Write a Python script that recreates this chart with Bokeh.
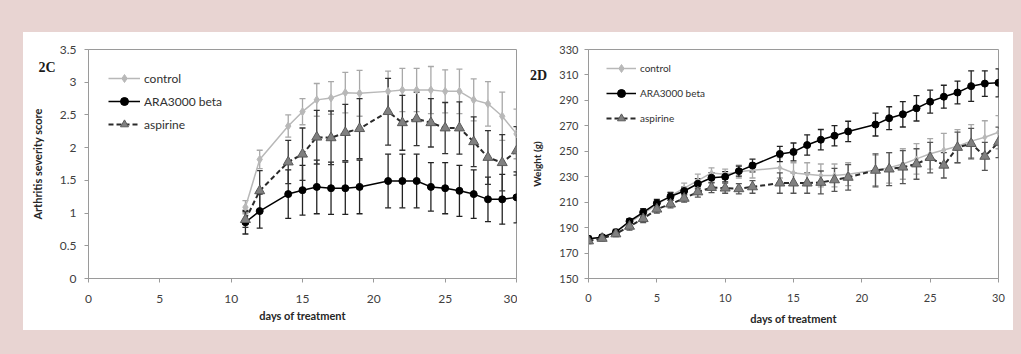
from bokeh.plotting import figure
from bokeh.models import (ColumnDataSource, Whisker, TeeHead, Legend, LegendItem,
                          FixedTicker, Label, Spacer)
from bokeh.layouts import row, column
from bokeh.embed import file_html
from bokeh.resources import INLINE

# ---------------- data: 2C arthritis severity score ----------------
days_c = [11, 12, 14, 15, 16, 17, 18, 19, 21, 22, 23, 24, 25, 26, 27, 28, 29, 30]
ctrl_c = [1.09, 1.82, 2.33, 2.55, 2.73, 2.76, 2.84, 2.83, 2.86, 2.88, 2.88, 2.88, 2.86, 2.86, 2.73, 2.67, 2.48, 2.21]
ctrl_c_err = [0.10, 0.14, 0.17, 0.20, 0.25, 0.25, 0.31, 0.35, 0.31, 0.33, 0.33, 0.36, 0.33, 0.34, 0.32, 0.34, 0.37, 0.38]
ara_c = [0.86, 1.03, 1.29, 1.35, 1.40, 1.38, 1.38, 1.40, 1.49, 1.49, 1.49, 1.40, 1.38, 1.34, 1.29, 1.21, 1.21, 1.24]
ara_c_err = [0.18, 0.26, 0.37, 0.38, 0.41, 0.40, 0.40, 0.41, 0.41, 0.41, 0.41, 0.37, 0.39, 0.39, 0.37, 0.34, 0.38, 0.39]
asp_c = [0.90, 1.34, 1.78, 1.90, 2.16, 2.15, 2.23, 2.29, 2.55, 2.38, 2.44, 2.38, 2.30, 2.30, 2.09, 1.85, 1.77, 1.95]
asp_c_err = [0.12, 0.31, 0.33, 0.40, 0.41, 0.41, 0.43, 0.46, 0.51, 0.42, 0.41, 0.37, 0.39, 0.40, 0.38, 0.41, 0.43, 0.37]

# ---------------- data: 2D weight (g) ----------------
days_d = [0, 1, 2, 3, 4, 5, 6, 7, 8, 9, 10, 11, 12, 14, 15, 16, 17, 18, 19, 21, 22, 23, 24, 25, 26, 27, 28, 29, 30]
ctrl_d = [181, 182.5, 187, 194, 201, 208, 215, 221, 227, 233, 232, 234, 235, 237, 233, 232, 231, 231, 232,
          235, 237, 240, 244, 248, 251, 254, 258, 261, 265]
ctrl_d_err = [2, 2, 2, 3, 3, 3, 3, 4, 5, 4, 4, 5, 6, 8, 8, 9, 9, 9, 9, 12, 12, 12, 12, 12, 13, 13, 13, 13, 13]
ara_d = [181.2, 182.5, 186.4, 195, 202, 209.2, 214.4, 218.8, 224.5, 229.2, 230, 234.4, 238.8, 247.9, 249.5,
         254.9, 259.1, 262.2, 265.6, 271, 276, 279.1, 283.8, 289, 292.9, 296.2, 301.2, 303.2, 303.8]
ara_d_err = [2, 2, 2, 2, 3, 3, 3, 3, 4, 4, 4, 4, 5, 6, 7, 8, 8, 8, 8, 9, 9, 10, 10, 9, 9, 9, 12, 10, 11]
asp_d = [179.5, 181.5, 185, 191, 197, 204.5, 208.5, 213, 218, 221.5, 221, 220.5, 222, 225, 225, 225, 225.5,
         227.5, 229.5, 235, 236, 237.5, 240, 245, 239, 253, 256, 246, 257]
asp_d_err = [2, 2, 2, 3, 3, 3, 3, 3, 4, 4, 4, 4, 5, 8, 8, 8, 9, 9, 10, 13, 13, 13, 12, 12, 10, 12, 12, 11, 12]

x_ticks = [0, 5, 10, 15, 20, 25, 30]
y_ticks_c = [0, 0.5, 1, 1.5, 2, 2.5, 3, 3.5]
y_labels_c = ["0", "0.5", "1", "1.5", "2", "2.5", "3", "3.5"]
y_ticks_d = [150, 170, 190, 210, 230, 250, 270, 290, 310, 330]

PINK = "#e8d4d2"
AXIS = "#9a9a9a"
TXT = "#404040"
FONT = "Lato"

C_CTRL = "#b8b8b8"
C_ARA = "#000000"
C_ASP_FILL = "#808080"
C_ASP_LINE = "#2a2a2a"


def base_fig(width, height, yr, left, right, top, bottom, ylabel):
    p = figure(width=width, height=height, x_range=(0, 30), y_range=yr,
               output_backend="svg", toolbar_location=None,
               min_border_left=left, min_border_right=right,
               min_border_top=top, min_border_bottom=bottom)
    p.background_fill_color = "white"
    p.border_fill_color = "white"
    p.outline_line_color = AXIS
    p.outline_line_width = 1
    p.xgrid.visible = False
    p.ygrid.visible = False
    for ax in (p.xaxis[0], p.yaxis[0]):
        ax.axis_line_color = AXIS
        ax.major_tick_line_color = AXIS
        ax.major_tick_out = 4
        ax.major_tick_in = 0
        ax.minor_tick_line_color = None
        ax.major_label_text_font = FONT
        ax.major_label_text_color = TXT
        ax.major_label_text_font_size = "12px"
        ax.axis_label_text_font = FONT
        ax.axis_label_text_font_style = "bold"
        ax.axis_label_text_color = "#262626"
        ax.axis_label_text_font_size = "11px"
    p.xaxis.ticker = FixedTicker(ticks=x_ticks)
    p.xaxis.axis_label = "days of treatment"
    p.yaxis.axis_label = ylabel
    return p


def add_series(p, x, y, err, color, marker, msize, fill, mline, dash, lw, whisk_color, head):
    upper = [a + b for a, b in zip(y, err)]
    lower = [a - b for a, b in zip(y, err)]
    src = ColumnDataSource(dict(x=x, y=y, upper=upper, lower=lower))
    w = Whisker(source=src, base="x", upper="upper", lower="lower",
                line_color=whisk_color, line_width=1.3,
                upper_head=TeeHead(size=head, line_color=whisk_color, line_width=1.3),
                lower_head=TeeHead(size=head, line_color=whisk_color, line_width=1.3))
    p.add_layout(w)
    lr = p.line("x", "y", source=src, line_color=color, line_width=lw, line_dash=dash)
    sr = p.scatter("x", "y", source=src, marker=marker, size=msize,
                   fill_color=fill, line_color=mline, line_width=1)
    return lr, sr


def make_legend(p, items, x, y, spacing, glyph_w, fsize):
    leg = Legend(items=items, location=(x, y), padding=0, margin=0, spacing=spacing,
                 glyph_width=glyph_w, glyph_height=20, label_height=20, label_standoff=4,
                 label_text_font=FONT, label_text_font_size=fsize, label_text_color="#303030",
                 background_fill_alpha=0, border_line_color=None)
    p.add_layout(leg)


def panel_label(p, text, x, y):
    # placed in the "above" side panel so it is not clipped to the frame;
    # its position still comes from the data scales
    p.add_layout(Label(x=x, y=y, text=text, level="overlay",
                       text_align="center", text_baseline="middle",
                       text_font="Liberation Serif", text_font_style="bold",
                       text_font_size="14px", text_color="#1a1a1a"), "above")


# ---------------- 2C ----------------
p1 = base_fig(494, 298, (0, 3.5), 65, 1, 17, 52, "Arthritis severity score")
p1.yaxis.ticker = FixedTicker(ticks=y_ticks_c)
p1.yaxis.major_label_overrides = {t: l for t, l in zip(y_ticks_c, y_labels_c)}
p1.yaxis.major_label_standoff = 8
p1.yaxis.axis_label_standoff = 13
p1.xaxis.major_label_standoff = 12
p1.xaxis.axis_label_standoff = 3

l1, s1 = add_series(p1, days_c, ctrl_c, ctrl_c_err, C_CTRL, "diamond", 8, C_CTRL, C_CTRL, "solid", 1.5, "#a8a8a8", 6)
l2, s2 = add_series(p1, days_c, ara_c, ara_c_err, C_ARA, "circle", 7, C_ARA, C_ARA, "solid", 1.5, "#222222", 6)
l3, s3 = add_series(p1, days_c, asp_c, asp_c_err, C_ASP_LINE, "triangle", 10, C_ASP_FILL, "#5a5a5a", "5 3", 2, "#333333", 6)
make_legend(p1, [LegendItem(label="control", renderers=[l1, s1]),
                 LegendItem(label="ARA3000 beta", renderers=[l2, s2]),
                 LegendItem(label="aspirine", renderers=[l3, s3])],
            20, 144, 3, 32, "12px")
panel_label(p1, "2C", -2.9, 3.22)

# ---------------- 2D ----------------
p2 = base_fig(496, 298, (150, 330), 71, 15, 17, 50, "Weight (g)")
p2.yaxis.ticker = FixedTicker(ticks=y_ticks_d)
p2.yaxis.major_label_standoff = 6
p2.yaxis.axis_label_standoff = 13
p2.yaxis.major_label_text_font_size = "11px"
p2.xaxis.major_label_text_font_size = "11px"
p2.xaxis.major_label_standoff = 11
p2.xaxis.axis_label_standoff = 7
p2.yaxis.axis_label_text_font_size = "10px"

m1, t1 = add_series(p2, days_d, ctrl_d, ctrl_d_err, C_CTRL, "diamond", 6, C_CTRL, C_CTRL, "solid", 1.5, "#a8a8a8", 6)
m2, t2 = add_series(p2, days_d, ara_d, ara_d_err, C_ARA, "circle", 7, C_ARA, C_ARA, "solid", 1.5, "#222222", 6)
m3, t3 = add_series(p2, days_d, asp_d, asp_d_err, C_ASP_LINE, "triangle", 10, C_ASP_FILL, "#5a5a5a", "5 3", 2, "#555555", 6)
make_legend(p2, [LegendItem(label="control", renderers=[m1, t1]),
                 LegendItem(label="ARA3000 beta", renderers=[m2, t2]),
                 LegendItem(label="aspirine", renderers=[m3, t3])],
            18, 150, 5, 30, "10px")
panel_label(p2, "2D", -3.66, 309.7)

charts = row(p1, p2, styles={"background-color": "white"})
layout = column(Spacer(width=1021, height=32),
                row(Spacer(width=23, height=298), charts),
                Spacer(width=1021, height=24),
                styles={"background-color": PINK})

open("out.html", "w").write(file_html(layout, INLINE))
